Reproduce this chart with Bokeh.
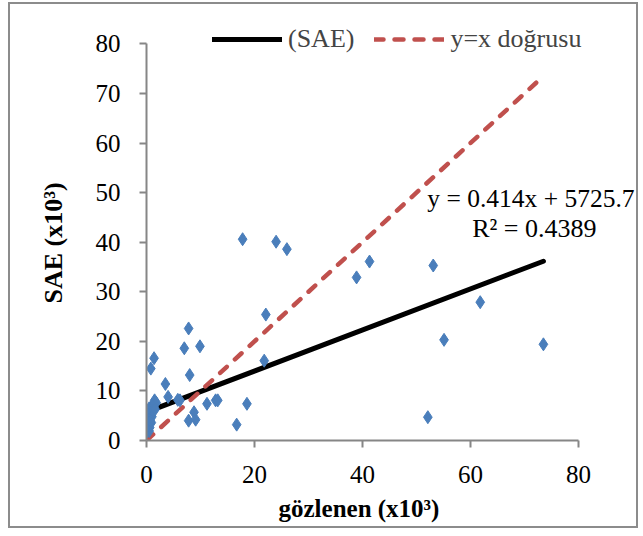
from bokeh.plotting import figure
from bokeh.models import Range1d, Legend, LegendItem, Label, FixedTicker, Title
from bokeh.embed import file_html
from bokeh.resources import INLINE

# observed (x10^3) and SAE estimate (x10^3)
gozlenen = [17.8, 24.0, 26.0, 38.9, 41.3, 53.1, 61.8, 55.1, 73.5, 52.1,
            22.1, 21.8, 7.8, 7.0, 9.9, 8.0, 1.4, 0.8, 3.5, 4.0,
            5.8, 6.2, 11.2, 12.8, 13.2, 18.6, 8.8, 7.8, 9.1, 16.7,
            1.5, 1.8, 1.0, 0.5, 1.2, 0.8, 0.3, 1.0, 0.6, 0.2,
            0.9, 0.4, 0.1, 0.6, 0.3, 0.1, 0.5, 0.2, 0.7, 1.6]
sae = [40.6, 40.1, 38.6, 32.9, 36.1, 35.3, 27.9, 20.3, 19.4, 4.7,
       25.4, 16.1, 22.6, 18.6, 19.0, 13.2, 16.6, 14.5, 11.4, 8.8,
       8.2, 8.1, 7.4, 8.1, 8.1, 7.4, 5.7, 4.0, 4.2, 3.2,
       8.1, 7.6, 7.0, 6.5, 6.0, 5.5, 5.2, 4.8, 4.4, 4.0,
       3.6, 3.2, 2.8, 2.6, 2.2, 1.8, 1.9, 3.0, 3.9, 6.3]

trend_x = [0.0, 73.5]
trend_y = [5.73, 36.16]
ident_x = [0.0, 73.5]
ident_y = [0.0, 73.5]

y_ticks = [0, 10, 20, 30, 40, 50, 60, 70, 80]
x_ticks = [0, 20, 40, 60, 80]

eq_text = "y = 0.414x + 5725.7"
r2_text = "R² = 0.4389"
x_title = "gözlenen (x10³)"
y_title = "SAE (x10³)"

FONT = "Liberation Serif"

p = figure(width=630, height=526, output_backend="svg", toolbar_location=None,
           x_range=Range1d(0, 91.48), y_range=Range1d(0, 87.95),
           min_border_left=136, min_border_right=0, min_border_top=0, min_border_bottom=90)
p.outline_line_color = None
p.grid.grid_line_color = None
p.background_fill_color = "white"
p.border_fill_color = "white"
p.styles = {"border": "2px solid #8c8c8c", "margin-left": "8px", "margin-top": "2px"}

for ax in (p.xaxis, p.yaxis):
    ax.bounds = (0, 80)
    ax.axis_line_color = "#868686"
    ax.axis_line_width = 2
    ax.major_tick_line_color = "#868686"
    ax.major_tick_line_width = 2
    ax.major_tick_out = 7
    ax.major_tick_in = 0
    ax.minor_tick_line_color = None
    ax.major_label_text_font = FONT
    ax.major_label_text_font_size = "25px"
    ax.major_label_text_color = "black"

p.xaxis.ticker = FixedTicker(ticks=x_ticks)
p.yaxis.ticker = FixedTicker(ticks=y_ticks)
p.xaxis.major_label_standoff = 18
p.yaxis.major_label_standoff = 19

p.add_layout(Title(text=x_title, align="left", offset=132, standoff=14,
                   text_font=FONT, text_font_size="25px", text_font_style="bold",
                   text_color="black"), "below")
p.add_layout(Title(text=y_title, align="left", offset=137, standoff=50,
                   text_font=FONT, text_font_size="26px", text_font_style="bold",
                   text_color="black"), "left")

r_sae = p.line(trend_x, trend_y, line_color="black", line_width=5, line_cap="round")
r_id = p.line(ident_x, ident_y, line_color="#C0504D", line_width=4.5,
              line_dash="9 11", line_cap="round")
p.scatter(gozlenen, sae, marker="diamond", size=13, fill_color="#4A7EBB",
          line_color="#4A7EBB")

legend = Legend(items=[LegendItem(label="(SAE)", renderers=[r_sae]),
                       LegendItem(label="y=x doğrusu", renderers=[r_id])],
                location=(66, 386), orientation="horizontal")
legend.label_text_font = FONT
legend.label_text_font_size = "26px"
legend.glyph_width = 70
legend.label_standoff = 6
legend.spacing = 20
legend.padding = 0
legend.margin = 0
legend.border_line_alpha = 0
legend.background_fill_alpha = 0
p.add_layout(legend, "center")

p.add_layout(Label(x=52.0, y=48.8, text=eq_text, text_font=FONT, text_font_size="25.5px",
                   text_baseline="middle", text_color="black"))
p.add_layout(Label(x=60.3, y=42.8, text=r2_text, text_font=FONT, text_font_size="26px",
                   text_baseline="middle", text_color="black"))

open("out.html", "w").write(file_html(p, INLINE))
